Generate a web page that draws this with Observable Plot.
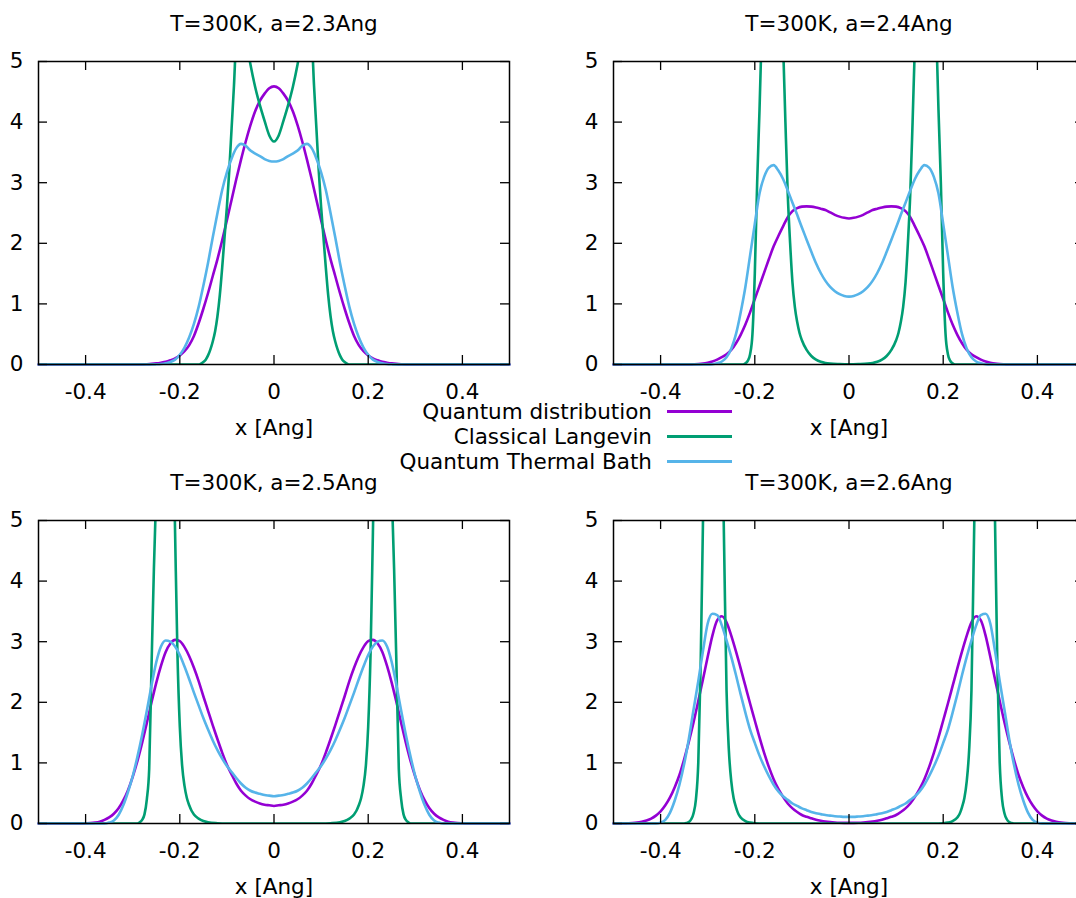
<!DOCTYPE html>
<html>
<head>
<meta charset="utf-8">
<script src="https://cdn.jsdelivr.net/npm/d3@7"></script>
<script src="https://cdn.jsdelivr.net/npm/@observablehq/plot@0.6"></script>
<style>
html, body { margin: 0; padding: 0; background: #fff; }
#chart { position: relative; width: 1076px; height: 898px; overflow: hidden; font-family: "DejaVu Sans", sans-serif; }
#chart svg { position: absolute; }
.lg-text { position: absolute; font-family: "DejaVu Sans", sans-serif; font-size: 21.5px; line-height: 20px; white-space: nowrap; text-align: right; color: #000; }
.lg-line { position: absolute; height: 3px; }
</style>
</head>
<body>
<div id="chart"></div>
<script>
// ---------- data ----------
const titles = ["T=300K, a=2.3Ang", "T=300K, a=2.4Ang", "T=300K, a=2.5Ang", "T=300K, a=2.6Ang"];
const seriesNames = ["Quantum distribution", "Classical Langevin", "Quantum Thermal Bath"];
const seriesColors = ["#9400d3", "#009e73", "#56b4e9"];
const xLabel = "x [Ang]";
const xTicks = [-0.4, -0.2, 0, 0.2, 0.4];
const xTickLabels = ["-0.4", "-0.2", "0", "0.2", "0.4"];
const yTicks = [0, 1, 2, 3, 4, 5];
const yTickLabels = ["0", "1", "2", "3", "4", "5"];

// sampling grid shared by the quantum and QTB curves
const xs = [
 -0.50,-0.49,-0.48,-0.47,-0.46,-0.45,-0.44,-0.43,-0.42,-0.41,
 -0.40,-0.39,-0.38,-0.37,-0.36,-0.35,-0.34,-0.33,-0.32,-0.31,
 -0.30,-0.29,-0.28,-0.27,-0.26,-0.25,-0.24,-0.23,-0.22,-0.21,
 -0.20,-0.19,-0.18,-0.17,-0.16,-0.15,-0.14,-0.13,-0.12,-0.11,
 -0.10,-0.09,-0.08,-0.07,-0.06,-0.05,-0.04,-0.03,-0.02,-0.01,
 0,
 0.01,0.02,0.03,0.04,0.05,0.06,0.07,0.08,0.09,0.10,
 0.11,0.12,0.13,0.14,0.15,0.16,0.17,0.18,0.19,0.20,
 0.21,0.22,0.23,0.24,0.25,0.26,0.27,0.28,0.29,0.30,
 0.31,0.32,0.33,0.34,0.35,0.36,0.37,0.38,0.39,0.40,
 0.41,0.42,0.43,0.44,0.45,0.46,0.47,0.48,0.49,0.50];

// a = 2.3 Ang
const quantum23 = [
 0,0,0,0,0,0,0,0,0,0,
 0,0,0,0,0,0,0,0,0,0,
 0,0,0.002,0.005,0.01,0.018,0.03,0.045,0.07,0.10,
 0.15,0.22,0.32,0.47,0.68,0.92,1.18,1.46,1.74,2.05,
 2.38,2.72,3.06,3.38,3.68,3.95,4.18,4.35,4.47,4.56,
 4.59,
 4.56,4.47,4.35,4.18,3.95,3.68,3.38,3.06,2.72,2.38,
 2.05,1.74,1.46,1.18,0.92,0.68,0.47,0.32,0.22,0.15,
 0.10,0.07,0.045,0.03,0.018,0.01,0.005,0.002,0,0,
 0,0,0,0,0,0,0,0,0,0,
 0,0,0,0,0,0,0,0,0,0];
const qtb23 = [
 0,0,0,0,0,0,0,0,0,0,
 0,0,0,0,0,0,0,0,0,0,
 0,0,0,0,0,0.003,0.008,0.02,0.04,0.08,
 0.16,0.28,0.45,0.67,0.95,1.30,1.68,2.10,2.50,2.88,
 3.17,3.40,3.57,3.64,3.61,3.53,3.48,3.44,3.39,3.36,
 3.35,
 3.36,3.39,3.44,3.48,3.53,3.61,3.64,3.57,3.40,3.17,
 2.88,2.50,2.10,1.68,1.30,0.95,0.67,0.45,0.28,0.16,
 0.08,0.04,0.02,0.008,0.003,0,0,0,0,0,
 0,0,0,0,0,0,0,0,0,0,
 0,0,0,0,0,0,0,0,0,0];
const classicalX23 = [-0.5,-0.16,-0.155,-0.15,-0.145,-0.14,-0.135,-0.13,-0.125,-0.12,-0.115,-0.11,-0.105,-0.1,-0.095,-0.09,-0.085,-0.08,-0.07,-0.06,-0.05,-0.04,-0.03,-0.02,-0.01,
 0,
 0.01,0.02,0.03,0.04,0.05,0.06,0.07,0.08,0.085,0.09,0.095,0.1,0.105,0.11,0.115,0.12,0.125,0.13,0.135,0.14,0.145,0.15,0.155,0.16,0.5];
const classical23 = [0,0,0.015,0.04,0.08,0.15,0.25,0.38,0.55,0.8,1.15,1.6,2.1,2.6,3.2,3.9,4.6,5.4,5.8,5.4,4.95,4.58,4.28,4.02,3.78,
 3.68,
 3.78,4.02,4.28,4.58,4.95,5.4,5.8,5.4,4.6,3.9,3.2,2.6,2.1,1.6,1.15,0.8,0.55,0.38,0.25,0.15,0.08,0.04,0.015,0,0];

// a = 2.4 Ang
const quantum24 = [
 0,0,0,0,0,0,0,0,0,0,
 0,0,0,0,0,0,0,0.003,0.007,0.015,
 0.03,0.05,0.08,0.12,0.17,0.24,0.35,0.49,0.66,0.86,
 1.08,1.30,1.52,1.74,1.95,2.12,2.28,2.43,2.53,2.58,
 2.605,2.61,2.605,2.59,2.57,2.55,2.51,2.47,2.44,2.42,
 2.41,
 2.42,2.44,2.47,2.51,2.55,2.57,2.59,2.605,2.61,2.605,
 2.58,2.53,2.43,2.28,2.12,1.95,1.74,1.52,1.30,1.08,
 0.86,0.66,0.49,0.35,0.24,0.17,0.12,0.08,0.05,0.03,
 0.015,0.007,0.003,0,0,0,0,0,0,0,
 0,0,0,0,0,0,0,0,0,0];
const qtb24 = [
 0,0,0,0,0,0,0,0,0,0,
 0,0,0,0,0,0,0,0,0,0,
 0,0.005,0.02,0.05,0.12,0.26,0.50,0.86,1.28,1.80,
 2.32,2.82,3.10,3.25,3.29,3.20,3.06,2.87,2.67,2.47,
 2.26,2.06,1.86,1.67,1.51,1.38,1.28,1.21,1.16,1.13,
 1.12,
 1.13,1.16,1.21,1.28,1.38,1.51,1.67,1.86,2.06,2.26,
 2.47,2.67,2.87,3.06,3.20,3.29,3.25,3.10,2.82,2.32,
 1.80,1.28,0.86,0.50,0.26,0.12,0.05,0.02,0.005,0,
 0,0,0,0,0,0,0,0,0,0,
 0,0,0,0,0,0,0,0,0,0];
const classicalX24 = [-0.5,-0.225,-0.22,-0.215,-0.21,-0.205,-0.2,-0.195,-0.19,-0.185,-0.18,-0.165,-0.15,-0.14,-0.135,-0.13,-0.125,-0.12,-0.115,-0.11,-0.105,-0.1,-0.09,-0.08,-0.07,-0.06,-0.05,-0.04,-0.02,
 0,
 0.02,0.04,0.05,0.06,0.07,0.08,0.09,0.1,0.105,0.11,0.115,0.12,0.125,0.13,0.135,0.14,0.15,0.165,0.18,0.185,0.19,0.195,0.2,0.205,0.21,0.215,0.22,0.225,0.5];
const classical24 = [0,0,0.02,0.06,0.17,0.5,1.5,3.0,4.2,5.6,7,8,7,5.3,4.0,2.8,2.0,1.35,0.95,0.70,0.52,0.40,0.24,0.14,0.08,0.045,0.025,0.015,0.008,
 0.005,
 0.008,0.015,0.025,0.045,0.08,0.14,0.24,0.40,0.52,0.70,0.95,1.35,2.0,2.8,4.0,5.3,7,8,7,5.6,4.2,3.0,1.5,0.5,0.17,0.06,0.02,0,0];

// a = 2.5 Ang
const quantum25 = [
 0,0,0,0,0,0,0,0,0,0,
 0.003,0.007,0.015,0.03,0.06,0.10,0.16,0.25,0.38,0.55,
 0.77,1.03,1.33,1.66,2.00,2.32,2.60,2.83,2.97,3.03,
 3.01,2.91,2.76,2.57,2.35,2.10,1.86,1.62,1.39,1.17,
 0.97,0.81,0.66,0.54,0.46,0.40,0.36,0.33,0.31,0.30,
 0.29,
 0.30,0.31,0.33,0.36,0.40,0.46,0.54,0.66,0.81,0.97,
 1.17,1.39,1.62,1.86,2.10,2.35,2.57,2.76,2.91,3.01,
 3.03,2.97,2.83,2.60,2.32,2.00,1.66,1.33,1.03,0.77,
 0.55,0.38,0.25,0.16,0.10,0.06,0.03,0.015,0.007,0.003,
 0,0,0,0,0,0,0,0,0,0];
const qtb25 = [
 0,0,0,0,0,0,0,0,0,0,
 0,0,0,0,0,0.015,0.05,0.14,0.30,0.52,
 0.78,1.10,1.46,1.86,2.28,2.66,2.92,3.02,3.00,2.92,
 2.78,2.59,2.38,2.16,1.95,1.74,1.55,1.37,1.21,1.07,
 0.95,0.85,0.75,0.66,0.59,0.54,0.51,0.49,0.47,0.46,
 0.45,
 0.46,0.47,0.49,0.51,0.54,0.59,0.66,0.75,0.85,0.95,
 1.07,1.21,1.37,1.55,1.74,1.95,2.16,2.38,2.59,2.78,
 2.92,3.00,3.02,2.92,2.66,2.28,1.86,1.46,1.10,0.78,
 0.52,0.30,0.14,0.05,0.015,0,0,0,0,0,
 0,0,0,0,0,0,0,0,0,0];
const classicalX25 = [-0.5,-0.29,-0.285,-0.28,-0.275,-0.27,-0.265,-0.26,-0.255,-0.25,-0.24,-0.23,-0.22,-0.21,-0.205,-0.2,-0.195,-0.19,-0.185,-0.18,-0.175,-0.17,-0.16,-0.15,-0.14,-0.12,-0.1,
 0,
 0.1,0.12,0.14,0.15,0.16,0.17,0.175,0.18,0.185,0.19,0.195,0.2,0.205,0.21,0.22,0.23,0.24,0.25,0.255,0.26,0.265,0.27,0.275,0.28,0.285,0.29,0.5];
const classical25 = [0,0,0.02,0.06,0.15,0.4,0.9,2.6,4.2,5.5,9,11,9,4.8,2.8,1.6,0.95,0.62,0.42,0.30,0.21,0.15,0.08,0.04,0.02,0.005,0,
 0,
 0,0.005,0.02,0.04,0.08,0.15,0.21,0.30,0.42,0.62,0.95,1.6,2.8,4.8,9,11,9,5.5,4.2,2.6,0.9,0.4,0.15,0.06,0.02,0,0];

// a = 2.6 Ang
const quantum26 = [
 0,0,0,0.003,0.007,0.015,0.03,0.05,0.08,0.13,
 0.20,0.30,0.43,0.60,0.80,1.06,1.35,1.67,2.02,2.38,
 2.75,3.10,3.35,3.42,3.32,3.10,2.84,2.56,2.27,1.98,
 1.70,1.42,1.16,0.93,0.73,0.57,0.44,0.33,0.25,0.19,
 0.14,0.11,0.085,0.062,0.045,0.032,0.023,0.017,0.013,0.011,
 0.01,
 0.011,0.013,0.017,0.023,0.032,0.045,0.062,0.085,0.11,0.14,
 0.19,0.25,0.33,0.44,0.57,0.73,0.93,1.16,1.42,1.70,
 1.98,2.27,2.56,2.84,3.10,3.32,3.42,3.35,3.10,2.75,
 2.38,2.02,1.67,1.35,1.06,0.80,0.60,0.43,0.30,0.20,
 0.13,0.08,0.05,0.03,0.015,0.007,0.003,0,0,0];
const qtb26 = [
 0,0,0,0,0,0,0,0,0,0,
 0.015,0.06,0.18,0.38,0.64,0.98,1.40,1.88,2.35,2.85,
 3.30,3.46,3.44,3.27,3.02,2.75,2.45,2.13,1.83,1.55,
 1.33,1.12,0.94,0.78,0.64,0.53,0.45,0.39,0.33,0.29,
 0.25,0.22,0.19,0.17,0.155,0.14,0.13,0.12,0.115,0.11,
 0.11,
 0.11,0.115,0.12,0.13,0.14,0.155,0.17,0.19,0.22,0.25,
 0.29,0.33,0.39,0.45,0.53,0.64,0.78,0.94,1.12,1.33,
 1.55,1.83,2.13,2.45,2.75,3.02,3.27,3.44,3.46,3.30,
 2.85,2.35,1.88,1.40,0.98,0.64,0.38,0.18,0.06,0.015,
 0,0,0,0,0,0,0,0,0,0];
const classicalX26 = [-0.5,-0.35,-0.345,-0.34,-0.335,-0.33,-0.325,-0.32,-0.315,-0.31,-0.3,-0.287,-0.275,-0.265,-0.26,-0.255,-0.25,-0.245,-0.24,-0.235,-0.23,-0.22,-0.21,-0.2,-0.18,
 0,
 0.18,0.2,0.21,0.22,0.23,0.235,0.24,0.245,0.25,0.255,0.26,0.265,0.275,0.287,0.3,0.31,0.315,0.32,0.325,0.33,0.335,0.34,0.345,0.35,0.5];
const classical26 = [0,0,0.008,0.025,0.07,0.17,0.4,1.0,2.6,5.0,9,11,9,4.5,2.2,1.2,0.70,0.42,0.27,0.16,0.10,0.04,0.015,0.005,0,
 0,
 0,0.005,0.015,0.04,0.10,0.16,0.27,0.42,0.70,1.2,2.2,4.5,9,11,9,5.0,2.6,1.0,0.4,0.17,0.07,0.025,0.008,0,0];

// ---------- layout ----------
const W = 560, H = 449, ML = 75, MR = 14, MT = 61, MB = 85;
const frameW = W - ML - MR, frameH = H - MT - MB, TICK = 9;
const FONT = "DejaVu Sans";
const FS = 21.5;

const panels = [
  {title: titles[0], q: quantum23, b: qtb23, cx: classicalX23, c: classical23, left: -37, top: 0},
  {title: titles[1], q: quantum24, b: qtb24, cx: classicalX24, c: classical24, left: 537.8, top: 0},
  {title: titles[2], q: quantum25, b: qtb25, cx: classicalX25, c: classical25, left: -37, top: 459},
  {title: titles[3], q: quantum26, b: qtb26, cx: classicalX26, c: classical26, left: 537.8, top: 459}
];

function rows(xArr, yArr) {
  if (xArr.length !== yArr.length) console.warn("length mismatch", xArr.length, yArr.length);
  return xArr.map((x, i) => ({x, y: yArr[i]}));
}

const chart = document.getElementById("chart");
for (const p of panels) {
  const lineOpts = {x: "x", y: "y", strokeWidth: 2.6, curve: "monotone-x", strokeLinejoin: "round"};
  const svg = Plot.plot({
    width: W, height: H,
    marginLeft: ML, marginRight: MR, marginTop: MT, marginBottom: MB,
    x: {domain: [-0.5, 0.5], label: null},
    y: {domain: [0, 5], label: null},
    style: {fontFamily: FONT, fontSize: FS + "px", background: "transparent", overflow: "visible", color: "black"},
    marks: [
      Plot.line(rows(xs, p.q), {...lineOpts, stroke: seriesColors[0]}),
      Plot.line(rows(p.cx, p.c), {...lineOpts, stroke: seriesColors[1], clip: true}),
      Plot.line(rows(xs, p.b), {...lineOpts, stroke: seriesColors[2]}),
      // inward mirrored ticks
      Plot.tickX(xTicks, {x: d => d, insetBottom: frameH - TICK, stroke: "black", strokeWidth: 1.3}),
      Plot.tickX(xTicks, {x: d => d, insetTop: frameH - TICK, stroke: "black", strokeWidth: 1.3}),
      Plot.tickY(yTicks, {y: d => d, insetRight: frameW - TICK, stroke: "black", strokeWidth: 1.3}),
      Plot.tickY(yTicks, {y: d => d, insetLeft: frameW - TICK, stroke: "black", strokeWidth: 1.3}),
      Plot.frame({stroke: "black", strokeWidth: 1.5}),
      Plot.axisX(xTicks, {tickSize: 0, tickPadding: 19.5, fontSize: FS, label: null,
        tickFormat: d => xTickLabels[xTicks.indexOf(d)]}),
      Plot.axisY(yTicks, {tickSize: 0, tickPadding: 15, fontSize: FS, label: null,
        tickFormat: d => yTickLabels[yTicks.indexOf(d)]}),
      Plot.text([p.title], {frameAnchor: "top", dy: -37, fontSize: FS, lineAnchor: "middle"}),
      Plot.text([xLabel], {frameAnchor: "bottom", dy: 64, fontSize: FS, lineAnchor: "middle"})
    ]
  });
  svg.style.left = p.left + "px";
  svg.style.top = p.top + "px";
  chart.appendChild(svg);
}

// ---------- legend ----------
const legendRows = [411.7, 436.7, 461.7];
seriesNames.forEach((name, i) => {
  const t = document.createElement("div");
  t.className = "lg-text";
  t.textContent = name;
  t.style.right = (1076 - 652) + "px";
  t.style.top = (legendRows[i] - 10) + "px";
  chart.appendChild(t);
  const l = document.createElement("div");
  l.className = "lg-line";
  l.style.left = "667px";
  l.style.width = "65px";
  l.style.top = (legendRows[i] - 1.5) + "px";
  l.style.background = seriesColors[i];
  chart.appendChild(l);
});
</script>
</body>
</html>
